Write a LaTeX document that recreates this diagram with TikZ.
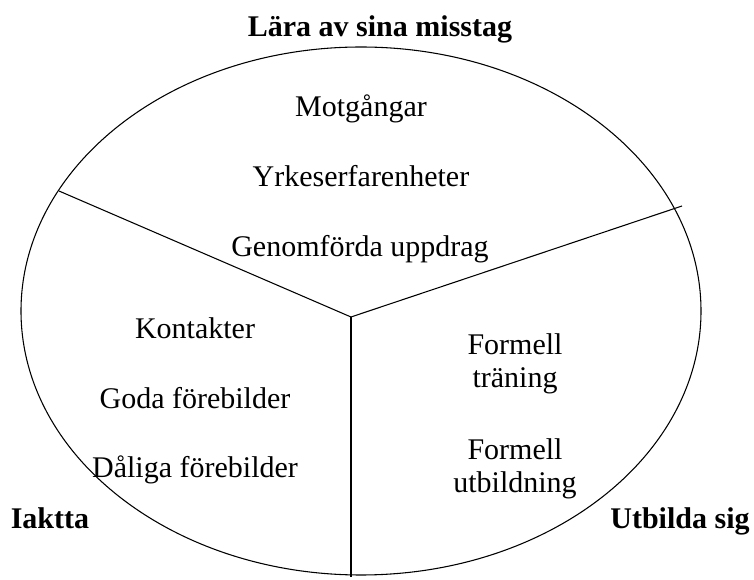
\documentclass[tikz,border=0pt]{standalone}
\usepackage{fontspec}
\setmainfont{Liberation Serif}
\usepackage{tikz}

\begin{document}
\begin{tikzpicture}[x=0.75pt,y=-0.75pt,thick,
    item/.style={font=\fontsize{22.5}{25}\selectfont, inner sep=0pt, align=center, anchor=base},
    head/.style={item, font=\fontsize{22.5}{25}\selectfont\bfseries}]
      \useasboundingbox (0,0) rectangle (754,580);

        % Circle and dividers
        \draw (361,311) ellipse [x radius=340, y radius=264];
        \coordinate (c) at (351,317);
        \coordinate (l) at (59,191);
        \coordinate (r) at (682,206);
        \coordinate (d) at (351,577);

        \draw (c) -- (l);
        \draw (c) -- (r);
        \draw (c) -- (d);

        % Headings
        \node[head] (lara) at (380,37) {Lära av sina misstag};
        \node[head] (iaktta) at (50,529) {Iaktta};
        \node[head] (utbilda) at (680,529) {Utbilda sig};

        % Top part
        \node[item] (mot) at (361,117) {Motgångar};
        \node[item] (yrk) at (361,187) {Yrkeserfarenheter};
        \node[item] (gen) at (360,257) {Genomförda uppdrag};

        % Left part
        \node[item] (kon) at (195,339) {Kontakter};
        \node[item] (goda) at (195,409) {Goda förebilder};
        \node[item] (dal) at (195,478) {Dåliga förebilder};

        % Right part
        \node[item] (trn) at (515,388) {Formell\\träning};
        \node[item] (utb) at (515,493) {Formell\\utbildning};

    \end{tikzpicture}
\end{document}
